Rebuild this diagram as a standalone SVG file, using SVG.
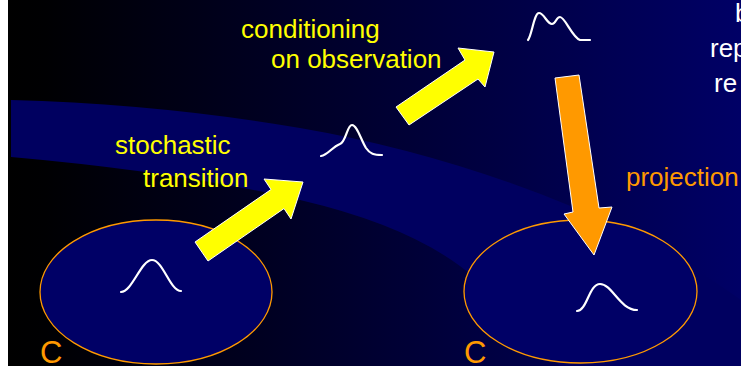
<svg xmlns="http://www.w3.org/2000/svg" width="741" height="366" viewBox="0 0 741 366">
  <style>
    .lbl { font-family: "Liberation Sans", Arial, sans-serif; font-size: 26px; }
    .yel { fill: #FFFF00; }
    .org { fill: #FF9900; }
    .wht { fill: #FFFFFF; }
    .set { fill: #000066; stroke: #FF9900; stroke-width: 1.3; }
    .pdf { fill: none; stroke: #FFFFFF; stroke-width: 2.2; stroke-linecap: round; stroke-linejoin: round; }
    .arr { stroke: #FFFFFF; stroke-width: 1; stroke-linejoin: miter; }
    .bigC { font-family: "Liberation Sans", Arial, sans-serif; font-size: 31px; fill: #FF9900; }
  </style>
  <defs>
    <linearGradient id="bg" x1="8" y1="0" x2="741" y2="0" gradientUnits="userSpaceOnUse">
      <stop offset="0" stop-color="#000000"/>
      <stop offset="0.05" stop-color="#000002"/>
      <stop offset="1" stop-color="#000066"/>
    </linearGradient>
  </defs>

  <rect x="0" y="0" width="741" height="366" fill="#FFFFFF"/>
  <rect x="8" y="0" width="733" height="366" fill="url(#bg)"/>

  <path id="band" d="M11,100 Q160,104 300,128 Q440,152 573,207 Q660,243 741,300 L741,366 L560,366 L477,280 Q420,228 300,200 Q180,172 11,157 Z" fill="#000060"/>

  <g id="node-set-left">
    <ellipse class="set" cx="156" cy="292" rx="116" ry="72"/>
    <path class="pdf" d="M121,292 C132,292 141,260 152,260 C163,260 170,291 181,291"/>
    <text class="bigC" x="40" y="363">C</text>
  </g>

  <g id="node-set-right">
    <ellipse class="set" cx="580.5" cy="291.5" rx="116.5" ry="71.5"/>
    <path class="pdf" d="M577,311 C587,311 589,284 600,284 C612,284 620,310 637,310"/>
    <text class="bigC" x="464" y="363">C</text>
  </g>

  <g id="node-predicted">
    <path class="pdf" d="M321,156 C328,155 332,147 340,144 C346,142 347,125 352,125 C357,125 361,140 366,148 C370,154 374,155 382,155"/>
  </g>

  <g id="node-posterior">
    <path class="pdf" d="M528,40 C532,35 534,13 539,13 C544,13 547,24 552,24 C556,24 556,17 560,17 C565,17 572,37 580,40 L590,40"/>
  </g>

  <g id="connectors">
    <polygon class="arr yel" points="195,242 271,189.5 264,179 303,182 291,219 284,208.5 208,261"/>
    <polygon class="arr yel" points="396,107 465,60 458,48 494,52 485,87 478,79 409,125"/>
    <polygon class="arr org" points="555,78 579,75 599,208 612,207 594,255 564,214 573,212"/>
  </g>

  <g id="labels">
    <text class="lbl yel" x="241" y="38">conditioning</text>
    <text class="lbl yel" x="271" y="68">on observation</text>
    <text class="lbl yel" x="115" y="154">stochastic</text>
    <text class="lbl yel" x="143" y="187">transition</text>
    <text class="lbl org" x="626" y="186">projection</text>
    <text class="lbl wht" x="735" y="22">b</text>
    <text class="lbl wht" x="710" y="57">rep</text>
    <text class="lbl wht" x="714" y="92">re</text>
  </g>
</svg>
